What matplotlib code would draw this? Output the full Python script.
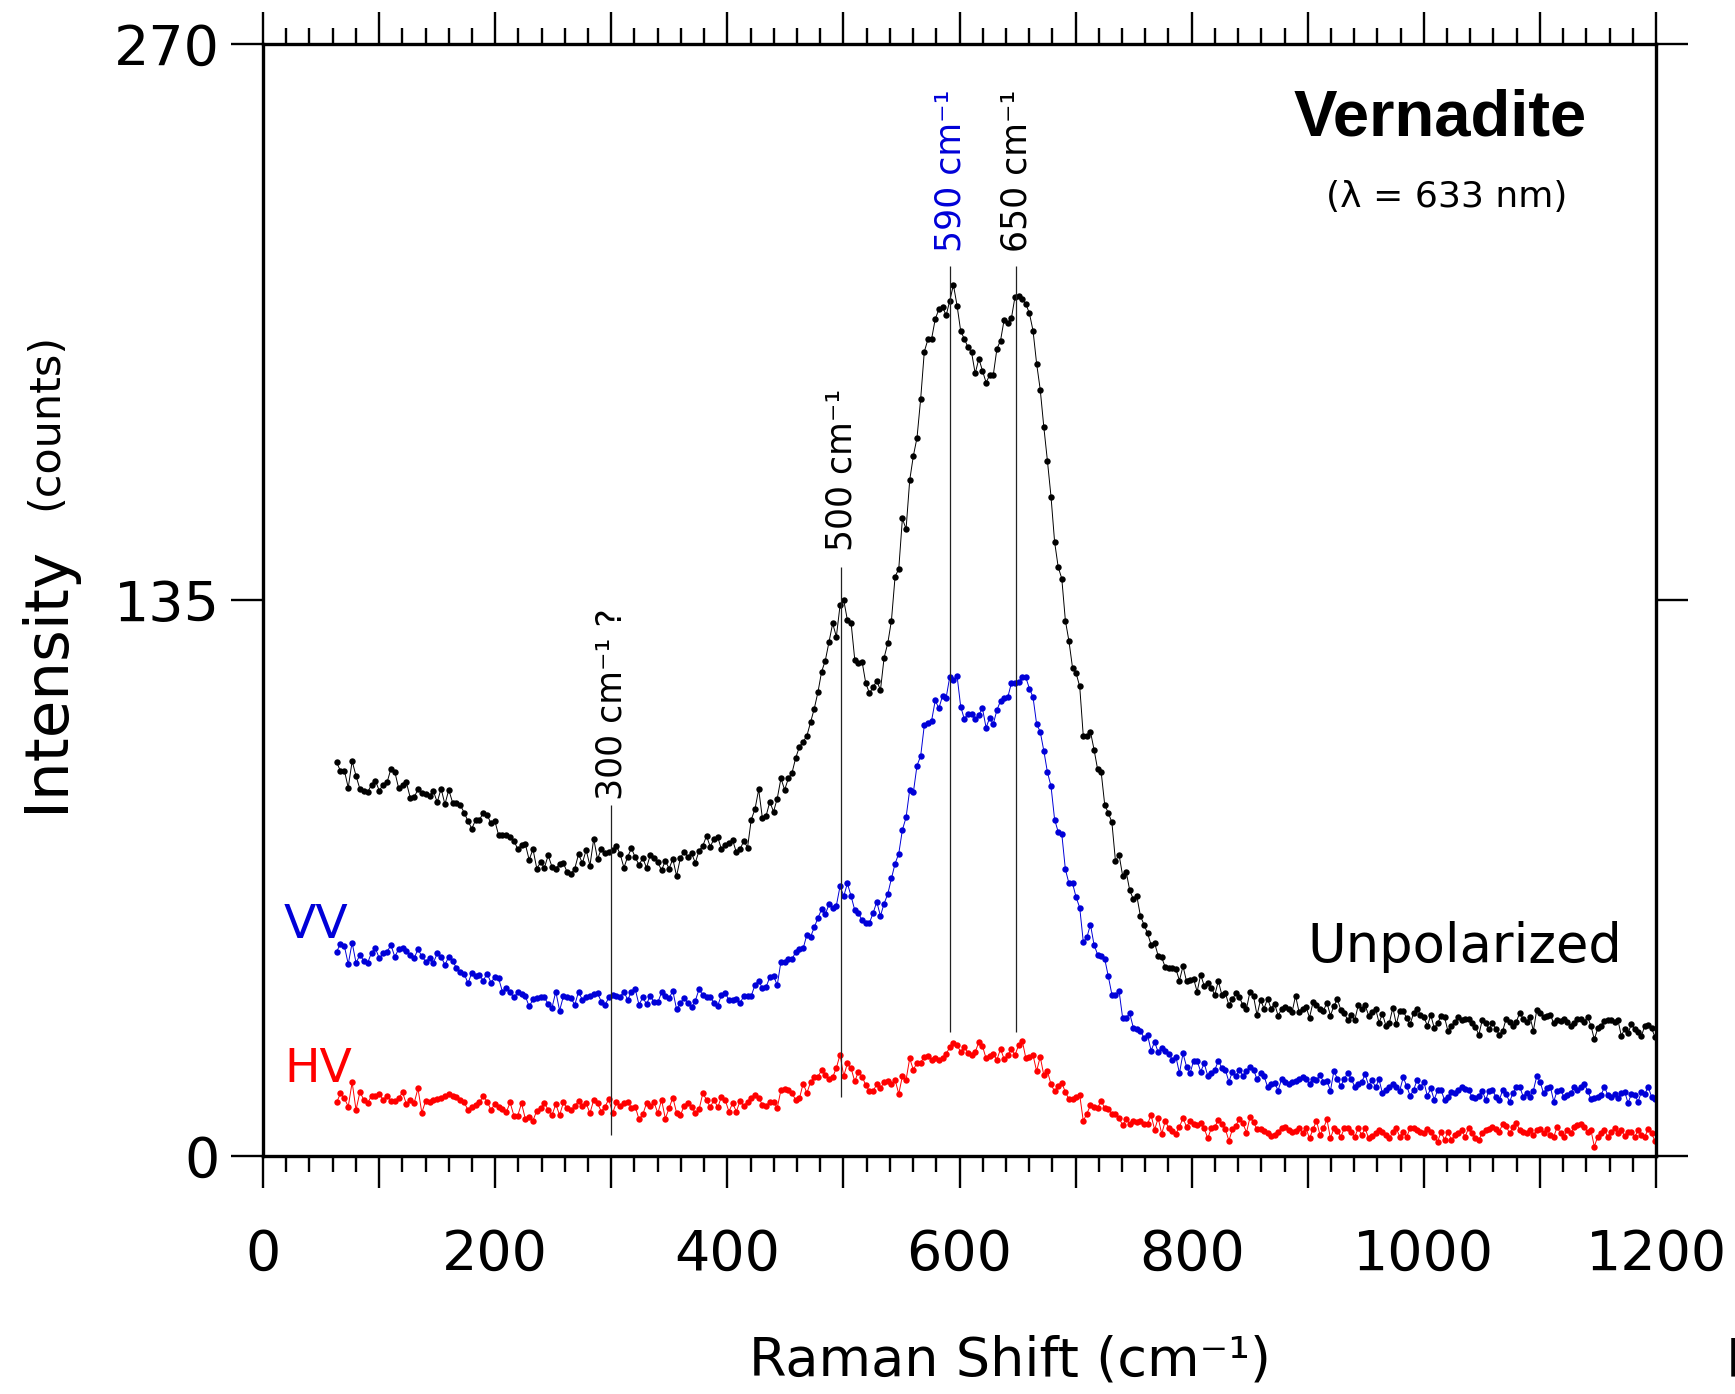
""" Polarized Raman spectra of vernadite (633 nm excitation) """

import numpy as np
import matplotlib.pyplot as plt
from matplotlib.ticker import MultipleLocator, FuncFormatter

#  Detector channels: uniform in wavelength, converted to Raman shift
laser_nm = 633.0
lam_first = 635.55   # nm, first channel
lam_last = 684.99    # nm, last channel


def raman_axis(n):
    lam = np.linspace(lam_first, lam_last, n)
    return 1e7 / laser_nm - 1e7 / lam


# Unpolarized (black)
unpol = [
    95.6, 93.5, 93.6, 89.4, 95.9, 92.3, 89.1, 88.7, 88.3, 90.2,
    91.1, 88.7, 90.2, 90.7, 94.0, 93.3, 89.3, 90.2, 90.7, 87.0,
    87.1, 89.0, 88.2, 87.9, 87.5, 88.6, 85.9, 89.2, 85.4, 88.9,
    85.8, 85.6, 85.2, 83.4, 81.3, 79.5, 81.6, 81.6, 83.4, 82.8,
    80.8, 81.4, 77.9, 77.9, 77.9, 77.5, 76.6, 74.5, 75.4, 75.7,
    71.9, 74.5, 69.8, 71.3, 70.0, 73.0, 70.2, 69.8, 70.9, 71.1,
    68.9,
    68.5, 69.8, 73.3, 71.1, 74.3, 70.5, 77.0, 72.1, 74.5, 73.5,
    73.9, 74.3, 75.3, 73.3, 70.0, 72.7, 74.7, 72.5, 70.7, 72.3,
    70.0, 73.1, 72.3, 71.3, 69.4, 71.7, 69.8, 72.1, 68.0, 72.3,
    73.9, 72.7, 73.5, 71.2, 74.1, 75.3, 77.7, 75.1, 77.0, 77.4,
    74.5, 75.5, 76.1, 76.7, 73.7, 74.5, 76.5, 74.9, 81.7, 84.2,
    89.0, 82.0, 82.6, 86.0, 83.6, 86.8, 91.7, 88.9, 91.7, 93.1,
    96.7, 99.4, 100.6,
    102.0, 105.3, 108.6, 112.6, 117.6, 120.3, 124.8, 129.3, 126.1, 133.7,
    135.0, 130.1, 129.5, 120.5, 119.6, 120.0, 114.8, 112.4, 113.8, 115.4,
    113.1, 121.0, 124.5, 130.0,
    140.7, 142.5, 154.8, 152.2, 164.1, 170.0, 174.4, 183.8, 195.3, 198.3,
    198.4, 203.2, 205.6, 206.2, 204.1, 207.7, 211.5, 206.5, 200.3, 198.4,
    196.4, 195.1, 190.0, 193.6, 190.7, 187.8, 189.6, 189.7, 196.0, 198.0,
    203.1, 202.3, 203.4, 208.6, 208.7, 208.0, 206.9, 204.6, 200.4, 192.4,
    186.1, 177.0, 168.8, 160.1, 149.1, 143.0, 140.2,
    130.0, 125.0, 118.5, 117.2, 114.0, 101.9, 101.9, 103.0, 98.7, 93.9,
    93.2, 85.2, 83.3, 81.0, 71.6, 73.2, 68.1, 69.0, 64.5, 62.4,
    63.1, 58.3, 56.2, 54.1, 51.3, 51.7, 48.6, 48.2, 45.8, 45.7,
    45.7, 45.4, 42.6, 46.1, 42.4, 42.8,
    43.0, 39.9, 44.0, 41.3, 41.9, 40.9, 39.1, 42.5, 39.1, 39.6,
    36.6, 38.1, 39.5, 38.5, 36.6, 35.8, 39.9, 38.8, 34.2, 37.9,
    35.8, 38.2, 35.8, 37.0, 34.1, 35.6, 36.1, 35.6, 34.9, 38.9,
    35.0, 35.8, 36.2, 33.6, 37.3, 36.6, 35.8, 35.3, 37.2, 34.1,
    36.4, 38.1, 35.4, 34.6, 33.0, 34.2, 33.0, 36.6, 35.8, 36.6,
    34.1, 35.0, 35.8, 32.4, 34.5, 31.6, 32.4, 36.0, 32.0, 35.3,
    35.3, 33.4, 32.0, 34.6, 35.8, 34.2, 33.8, 31.6, 34.2, 31.1,
    32.2,
    34.1, 33.7, 30.3, 31.6, 32.5, 33.7, 33.0, 33.3, 33.2, 32.2,
    31.4, 29.4, 33.0, 32.4, 30.8, 32.2, 30.8, 29.5, 30.4, 33.3,
    32.6, 31.6, 32.6, 34.8, 33.3, 32.5, 33.8, 30.4, 35.5, 34.8,
    33.7, 34.0, 34.3, 32.2, 33.0, 32.9, 33.3, 32.6, 31.6, 32.2,
    33.3, 33.3, 32.6, 33.8, 31.6, 28.3, 31.0, 31.6, 32.8, 33.0,
    33.0, 32.6, 33.0, 29.2, 30.8, 29.8, 32.0, 30.8, 30.2, 29.2,
    31.6, 31.8, 31.0, 29.0,
]

# VV (blue)
vv = [
    49.6, 51.5, 51.0, 46.6, 51.8, 46.9, 48.8, 47.4, 46.9, 49.4,
    50.4, 48.0, 49.2, 49.6, 51.2, 48.4, 50.2, 50.4, 49.8, 48.8,
    48.0, 50.2, 48.5, 47.2, 48.0, 46.9, 49.2, 48.4, 46.4, 48.4,
    47.3, 45.7, 44.7, 44.3, 41.9, 44.5, 43.7, 43.9, 42.6, 44.3,
    42.1, 43.4, 43.1, 39.9, 40.7, 39.7, 38.5, 39.7, 39.3, 38.8,
    36.3, 38.0, 38.3, 38.5, 38.5, 36.9, 36.0, 39.9, 35.3, 38.8,
    38.7,
    38.3, 36.7, 39.9, 37.9, 38.5, 38.9, 39.3, 39.5, 37.5, 36.7,
    38.5, 39.1, 38.8, 38.7, 39.9, 37.9, 39.9, 40.5, 36.7, 38.5,
    36.9, 38.9, 37.3, 37.3, 39.7, 38.8, 38.3, 40.1, 35.6, 37.1,
    38.4, 37.1, 36.1, 37.7, 40.5, 39.1, 38.5, 38.7, 37.1, 36.5,
    39.1, 39.6, 37.9, 37.9, 38.1, 37.1, 38.9, 38.9, 38.9, 41.5,
    42.6, 40.7, 41.1, 43.4, 43.7, 41.5, 47.2, 47.0, 47.8, 47.8,
    49.6, 50.2, 50.4, 53.7,
    53.2, 55.5, 57.8, 59.9, 58.7, 61.1, 60.3, 60.8, 65.5, 63.1,
    66.2, 63.1, 59.7, 59.0, 57.2, 56.6, 56.6, 59.0, 61.7, 58.3,
    61.3, 63.6, 67.4, 71.0, 73.4, 79.2, 82.2, 88.9, 88.3, 94.8,
    97.1, 104.6, 105.2, 105.7, 110.6, 108.7, 111.7, 111.3, 116.4, 115.6,
    116.6, 109.1, 106.1, 107.4, 107.2, 106.1, 107.1, 108.7, 104.0, 106.4,
    104.9, 108.3, 110.5,
    111.2, 111.4, 114.8, 114.8, 115.1, 116.2, 116.2, 113.5, 111.4, 104.9,
    103.0, 98.4, 93.2, 89.8, 81.7, 78.7, 78.2, 69.6, 66.2, 66.2,
    62.8, 60.3, 52.0, 53.1, 56.2, 51.3, 48.9, 48.5, 47.8, 43.6,
    39.2, 39.2, 40.1, 33.6, 33.6, 34.6, 31.2, 30.8, 30.4, 28.7,
    29.4, 25.6, 27.7, 25.2, 26.2, 25.6, 24.8, 23.4, 24.1, 20.1,
    24.9, 21.7, 20.1, 23.1,
    23.1, 20.5, 22.5, 19.5, 20.2, 20.9, 23.1, 21.4, 20.9, 18.0,
    20.5, 19.4, 21.0, 19.4, 20.6, 21.7, 21.0, 18.6, 20.1, 19.4,
    16.8, 17.6, 17.8, 15.9, 18.6, 18.0, 17.5, 18.0, 18.3, 18.7,
    19.2, 18.6, 17.6, 18.8, 18.4, 19.7, 18.0, 18.3, 15.8, 20.7,
    18.7, 17.0, 18.7, 20.2, 18.7, 16.8, 17.6, 18.0, 19.8, 17.1,
    18.4, 16.7, 18.6, 15.2, 16.0, 16.8, 17.6, 16.8, 15.9, 19.1,
    17.0, 14.6, 16.0, 18.4, 16.8, 18.0, 14.6, 16.4, 13.7, 16.0,
    16.0, 13.6, 14.4, 15.6, 15.2, 16.0, 16.8, 16.3, 16.0, 14.4,
    14.2, 14.6, 15.9, 13.6, 15.9, 16.0, 14.4, 13.6, 16.0, 15.0,
    13.2, 15.2, 16.8, 16.8, 14.4, 15.4, 14.4, 15.9, 19.4, 18.0,
    15.2, 16.4, 16.8, 13.2, 15.9, 16.0, 14.4, 14.8, 15.2, 16.8,
    16.0, 16.8, 17.4, 15.9, 13.8, 14.0, 14.4, 14.8, 16.8, 14.8,
    14.4, 15.0, 14.2, 15.2, 15.6, 12.9, 15.0, 14.8, 13.2, 15.6,
    15.0, 16.8, 14.4, 13.8,
]

# HV (red)
hv = [
    13.0, 15.2, 14.0, 12.0, 17.9, 11.2, 15.5, 13.7, 12.9, 14.6,
    14.6, 15.0, 13.7, 14.6, 13.4, 13.4, 14.0, 15.5, 12.6, 13.6,
    12.8, 16.4, 10.5, 13.4, 13.2, 13.6, 13.8, 14.2, 14.6, 15.0,
    14.6, 14.4, 13.6, 13.0, 11.2, 12.0, 12.4, 13.0, 14.6, 13.2,
    11.2, 12.6, 12.0, 11.4, 10.6, 13.0, 9.8, 9.8, 12.8, 9.0,
    9.5, 8.6, 11.0, 11.6, 12.9, 11.2, 9.9, 12.6, 9.9, 13.0,
    11.6,
    11.2, 12.1, 13.4, 12.2, 12.8, 10.4, 13.6, 12.8, 10.8, 12.0,
    13.8, 10.4, 13.0, 12.2, 12.8, 13.2, 11.7, 12.0, 8.9, 10.1,
    12.8, 12.2, 13.0, 10.4, 13.6, 9.1, 11.6, 14.2, 10.5, 9.9,
    12.1, 12.9, 12.0, 10.4, 11.3, 15.2, 13.7, 11.8, 13.7, 11.8,
    14.4, 13.6, 10.8, 12.8, 10.8, 13.4, 12.1, 13.2, 14.2, 14.8,
    14.2, 12.4, 12.1, 13.2, 13.2, 11.7, 16.0, 16.2, 16.0, 15.2,
    13.6, 14.0, 17.6,
    15.3, 17.9, 19.1, 19.3, 20.8, 19.7, 18.8, 19.1, 21.4, 24.6,
    19.4, 22.5, 21.3, 18.1, 20.5, 19.3, 17.2, 15.8, 15.8, 17.4,
    16.5, 17.9, 18.3, 17.4, 18.5, 15.1, 19.4, 18.5, 23.7, 20.9,
    22.7, 22.7, 24.1, 24.4, 23.2, 23.9, 23.3, 23.9, 24.8, 26.4,
    27.4, 26.9, 25.3, 26.4, 25.1, 24.6, 25.3, 27.6, 26.7, 23.7,
    24.4, 24.8, 23.4, 26.0,
    23.5, 24.5, 25.9, 24.5, 26.9, 28.0, 23.8, 24.1, 24.5, 20.6,
    24.1, 19.6, 20.6, 17.4, 15.7, 16.9, 17.8, 15.5, 13.8, 13.8,
    14.4, 14.8, 8.5, 10.3, 12.3, 12.0, 11.7, 13.4, 11.6, 11.3,
    10.3, 10.3, 9.2, 7.5, 8.9, 7.8, 8.5, 8.2, 8.5, 7.8,
    7.8, 9.9, 6.4, 9.2, 5.4, 8.5, 6.8, 6.1, 5.4, 7.1,
    9.2, 7.1, 8.5, 7.8,
    7.5, 7.9, 6.7, 4.3, 6.7, 7.1, 8.7, 7.7, 6.5, 3.7,
    6.5, 7.4, 9.1, 7.9, 5.7, 9.4, 8.2, 6.5, 6.5, 6.1,
    5.5, 4.8, 5.1, 5.9, 6.7, 7.1, 6.3, 5.9, 6.1, 6.9,
    5.7, 6.7, 4.3, 6.5, 8.6, 5.1, 6.7, 8.9, 4.3, 6.7,
    6.1, 4.7, 6.7, 6.7, 5.9, 4.7, 6.7, 5.1, 6.7, 4.3,
    4.8, 5.5, 6.3, 5.9, 5.1, 4.3, 5.9, 6.7, 4.7, 5.9,
    4.7, 6.7, 6.7, 6.3, 5.9, 5.5, 6.5, 5.9, 4.7, 3.5,
    5.9, 3.9, 5.9, 3.9, 5.1, 5.7, 6.2, 4.7, 6.7, 5.5,
    4.3, 3.9, 5.5, 6.2, 6.5, 7.1, 6.5, 5.9, 7.8, 7.3,
    5.5, 7.0, 8.1, 6.2, 5.9, 5.5, 6.2, 5.1, 6.2, 6.5,
    5.5, 6.5, 5.1, 4.7, 7.0, 5.5, 4.7, 6.2, 5.5, 7.0,
    7.5, 7.8, 7.0, 5.9, 6.2, 2.3, 4.7, 5.5, 6.2, 4.7,
    5.9, 6.7, 5.5, 6.2, 4.9, 5.9, 5.9, 4.7, 6.2, 5.1,
    4.7, 6.5, 5.5, 3.7,
]

# Peak markers
peak_pos = [300, 498, 592, 649]
peak_low = [5.1, 14.4, 30.2, 30.0]
peak_high = [85.2, 143.0, 216.0, 216.0]
peak_labels = ['300 cm\u207b\u00b9 ?', '500 cm\u207b\u00b9', '590 cm\u207b\u00b9', '650 cm\u207b\u00b9']
peak_label_y = [86.5, 146.9, 219.5, 219.5]

blue = '#0000d8'
red = '#ff0000'
peak_colors = ['black', 'black', blue, 'black']

plt.rcParams['font.family'] = ['DejaVu Sans']

fig = plt.figure(figsize=(17.35, 13.94), dpi=100)
ax = fig.add_axes([263 / 1735, 1 - 1156 / 1394, (1656 - 263) / 1735, (1156 - 44) / 1394])

for y, c in [(unpol, 'black'), (vv, blue), (hv, red)]:
    ax.plot(raman_axis(len(y)), y, '-o', color=c, lw=0.7, ms=4.6, mew=0)

ax.vlines(peak_pos, peak_low, peak_high, colors='#222222', lw=0.9)
for xp, yp, lab, c in zip(peak_pos, peak_label_y, peak_labels, peak_colors):
    ax.text(xp, yp, lab, rotation=90, ha='center', va='bottom', fontsize=25, color=c)

ax.set_xlim(0, 1200)
ax.set_ylim(0, 270)

ax.set_xticks(np.arange(0, 1201, 100))
ax.xaxis.set_major_formatter(FuncFormatter(lambda v, p: '%d' % v if int(v) % 200 == 0 else ''))
ax.xaxis.set_minor_locator(MultipleLocator(20))
ax.set_yticks([0, 135, 270])

ax.tick_params(axis='x', which='major', direction='out', length=23, width=1.7,
               top=True, bottom=True, labelsize=40, pad=29)
ax.tick_params(axis='x', which='minor', direction='out', length=11.5, width=1.7,
               top=True, bottom=True)
ax.tick_params(axis='y', which='major', direction='out', length=23, width=1.7,
               left=True, right=True, labelsize=40, pad=8)
for s in ax.spines.values():
    s.set_linewidth(2.4)

# Labels
ax.text(1014, 247.8, 'Vernadite', ha='center', va='baseline', fontsize=47,
        fontweight='bold', family='Liberation Sans')
ax.text(1020, 230.4, '(\u03bb = 633 nm)', ha='center', va='baseline', fontsize=26)
ax.text(1035, 47.1, 'Unpolarized', ha='center', va='baseline', fontsize=38)
ax.text(18, 52.9, 'VV', ha='left', va='baseline', fontsize=34, color=blue)
ax.text(18, 18.0, 'HV', ha='left', va='baseline', fontsize=34, color=red)

fig.text(63 / 1735, 1 - 679 / 1394, 'Intensity', rotation=90, rotation_mode='anchor',
         ha='center', va='baseline', fontsize=44)
fig.text(57 / 1735, 1 - 421 / 1394, '(counts)', rotation=90, rotation_mode='anchor',
         ha='center', va='baseline', fontsize=31)
fig.text(1010 / 1735, 1 - 1376 / 1394, 'Raman Shift (cm\u207b\u00b9)', ha='center',
         va='baseline', fontsize=39)
# partial label clipped at the right edge, as in the original figure
fig.text(1726 / 1735, 1 - 1376 / 1394, 'F', ha='left', va='baseline', fontsize=39)

fig.savefig('out.png', dpi=100)
